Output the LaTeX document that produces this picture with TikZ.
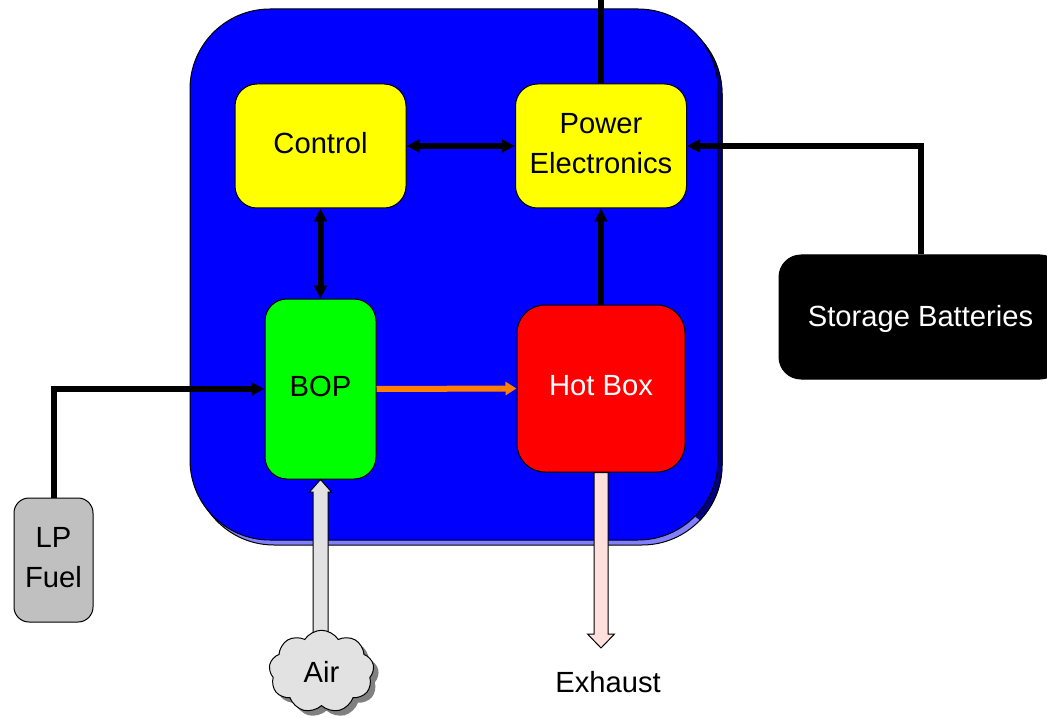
\documentclass[tikz,border=0pt]{standalone}
\usepackage{fontspec}
\setmainfont{Liberation Sans}
\usetikzlibrary{arrows.meta,calc,shapes.symbols,shadows}
\definecolor{mainblue}{RGB}{0,0,255}
\definecolor{bevellight}{RGB}{128,128,255}
\definecolor{beveldark}{RGB}{0,0,128}
\definecolor{boxyellow}{RGB}{255,255,0}
\definecolor{boxgreen}{RGB}{0,255,0}
\definecolor{boxred}{RGB}{255,0,0}
\definecolor{fuelgray}{RGB}{192,192,192}
\definecolor{aircolor}{RGB}{226,226,226}
\definecolor{exhaustpink}{RGB}{255,224,220}
\definecolor{flamecolor}{RGB}{255,128,0}
\tikzset{
  unit/.style={draw=black, line width=0.02cm, inner sep=0pt, align=center, rounded corners=0.44cm,
    font=\fontsize{16.6}{22.7}\selectfont},
  lift/.style={text depth=0.11cm},
  link/.style={line width=0.12cm, -{Triangle[length=0.26cm,width=0.25cm]}},
  both/.style={line width=0.12cm, {Triangle[length=0.26cm,width=0.25cm]}-{Triangle[length=0.26cm,width=0.25cm]}},
  flowpipe/.style={draw=black, line width=0.02cm, line join=miter}
}
\begin{document}
\begin{tikzpicture}
  \clip (0,0) rectangle (20.94,14.34);

  % housing with its bevel
  \draw[fill=bevellight, line width=0.02cm, rounded corners=1.6cm] (3.88,3.44) rectangle (14.44,14.06);
  \begin{scope}
    \clip (13.2,4.58) -- (15.2,2.96) -- (15.2,14.34) -- (13.2,14.34) -- cycle;
    \draw[fill=beveldark, line width=0.02cm, rounded corners=1.6cm] (3.88,3.44) rectangle (14.44,14.06);
  \end{scope}
  \node[draw=black, fill=mainblue, line width=0.02cm, rounded corners=1.6cm, inner sep=0pt,
    minimum width=10.56cm, minimum height=10.62cm] (housing) at (9.08,8.85) {};

  \node[unit, lift, fill=boxyellow, minimum width=3.42cm, minimum height=2.48cm] (control) at (6.41,11.42) {Control};
  \node[unit, lift, fill=boxyellow, minimum width=3.42cm, minimum height=2.48cm] (power) at (12.02,11.42) {Power\\Electronics};
  \node[unit, lift, fill=boxgreen, minimum width=2.22cm, minimum height=3.6cm] (bop) at (6.41,6.56) {BOP};
  \node[unit, lift, fill=boxred, text=white, rounded corners=0.56cm, minimum width=3.36cm, minimum height=3.34cm] (hotbox) at (12.02,6.57) {Hot Box};
  \node[unit, text depth=0.05cm, fill=black, text=white, minimum width=5.66cm, minimum height=2.48cm] (batteries) at (18.41,8) {Storage Batteries};
  \node[unit, lift, fill=fuelgray, rounded corners=0.3cm, minimum width=1.58cm, minimum height=2.48cm] (fuel) at (1.07,3.14) {LP\\Fuel};
  \node[font=\fontsize{16.6}{22.7}\selectfont] (exhaust) at (12.16,0.7) {Exhaust};

  \coordinate (gridend) at (12.02,14.5);
  \coordinate (exhaustend) at (12.02,1.38);
  \coordinate (airfoot) at (6.41,1.68);

  \draw[line width=0.12cm] (power.north) -- (gridend);
  \draw[both] (control.east) -- (power.west);
  \draw[both] (control.south) -- (bop.north);
  \draw[link] (hotbox.north) -- (power.south);
  \draw[link] (batteries.north) |- (power.east);
  \draw[link] (fuel.north) |- (bop.west);
  \draw[flamecolor, line width=0.12cm, -{Triangle[length=0.22cm,width=0.26cm]}] (bop.east) -- (hotbox.west);

  \draw[flowpipe, fill=aircolor] ($(airfoot)+(-0.15,0)$) -- ($(bop.south)+(-0.15,-0.25)$) -- ($(bop.south)+(-0.22,-0.25)$)
    -- (bop.south) -- ($(bop.south)+(0.22,-0.25)$) -- ($(bop.south)+(0.15,-0.25)$) -- ($(airfoot)+(0.15,0)$) -- cycle;
  \draw[flowpipe, fill=exhaustpink] ($(hotbox.south)+(-0.14,0)$) -- ($(exhaustend)+(-0.14,0.28)$) -- ($(exhaustend)+(-0.27,0.28)$)
    -- (exhaustend) -- ($(exhaustend)+(0.27,0.28)$) -- ($(exhaustend)+(0.14,0.28)$) -- ($(hotbox.south)+(0.14,0)$) -- cycle;

  \node[unit, cloud, cloud puffs=9, cloud puff arc=115, aspect=1.35, fill=aircolor, rounded corners=0pt,
    minimum width=2.1cm, minimum height=1.65cm,
    drop shadow={shadow xshift=0.1cm, shadow yshift=-0.1cm, fill=gray, opacity=1}] (air) at (6.43,0.91) {Air};
\end{tikzpicture}
\end{document}
